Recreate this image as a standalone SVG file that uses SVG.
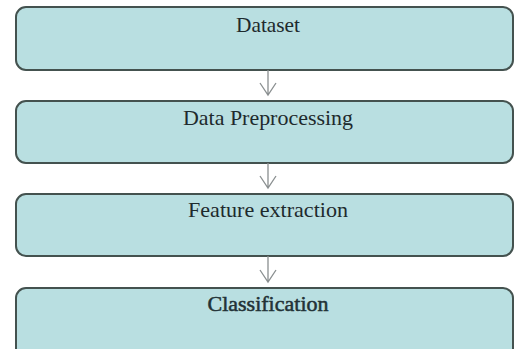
<svg xmlns="http://www.w3.org/2000/svg" width="515" height="349" viewBox="0 0 515 349">
  <defs>
    <style>
      .box { fill: #b9dfe1; stroke: #44524f; stroke-width: 2; }
      .label { font-family: "Liberation Serif", "Times New Roman", serif; font-size: 21px; fill: #1e2a2d; text-anchor: middle; }
      .strong { fill: #223236; stroke: #223236; stroke-width: 0.5; }
      .conn { stroke: #8a8f90; stroke-width: 1.3; fill: none; }
    </style>
  </defs>
  <rect width="515" height="349" fill="#ffffff"/>

  <g id="node-dataset">
    <rect class="box" x="16" y="7" width="497" height="63" rx="10" ry="10"/>
    <text class="label" x="268" y="32" textLength="64" lengthAdjust="spacingAndGlyphs">Dataset</text>
  </g>
  <g id="node-preprocessing">
    <rect class="box" x="16" y="101" width="497" height="62" rx="10" ry="10"/>
    <text class="label" x="268" y="125" textLength="170" lengthAdjust="spacingAndGlyphs">Data Preprocessing</text>
  </g>
  <g id="node-features">
    <rect class="box" x="16" y="194" width="497" height="62" rx="10" ry="10"/>
    <text class="label" x="268" y="217" textLength="160" lengthAdjust="spacingAndGlyphs">Feature extraction</text>
  </g>
  <g id="node-classification">
    <rect class="box" x="16" y="288" width="497" height="70" rx="10" ry="10"/>
    <text class="label strong" x="268" y="311" textLength="121" lengthAdjust="spacingAndGlyphs">Classification</text>
  </g>

  <g id="connectors">
    <path class="conn" d="M268 70 V95 M260 83 L268 95 L276 83"/>
    <path class="conn" d="M268 163 V188 M260 176 L268 188 L276 176"/>
    <path class="conn" d="M268 256 V282 M260 270 L268 282 L276 270"/>
  </g>
</svg>
